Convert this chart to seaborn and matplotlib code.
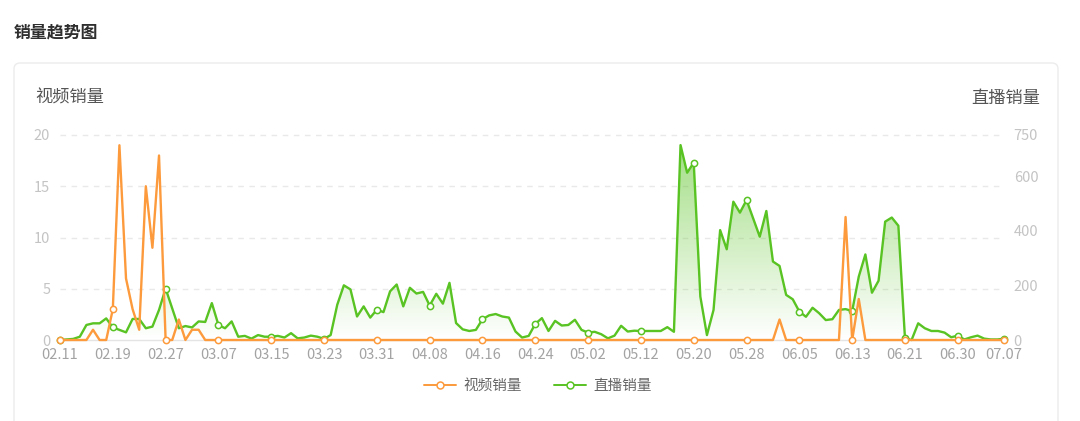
import numpy as np
import pandas as pd
import matplotlib
matplotlib.use("Agg")
import matplotlib.pyplot as plt
import seaborn as sns
from matplotlib.lines import Line2D
from matplotlib.patches import FancyBboxPatch
from matplotlib.colors import to_rgb
from matplotlib.transforms import IdentityTransform

# ---- data -------------------------------------------------------------
# daily dates (a few days have no record)
all_days = pd.date_range("2023-02-11", "2023-07-07", freq="D")
missing_days = pd.to_datetime(["2023-05-06", "2023-05-07", "2023-06-25"])
dates = [d.strftime("%m.%d") for d in all_days if d not in missing_days]

# 视频销量 (left axis)
video_sales = [
    0, 0, 0, 0, 0, 1, 0, 0, 3, 19, 6, 3, 1, 15, 9, 18, 0, 0, 2, 0,
    1, 1, 0, 0, 0, 0, 0, 0, 0, 0, 0, 0, 0, 0, 0, 0, 0, 0, 0, 0,
    0, 0, 0, 0, 0, 0, 0, 0, 0, 0, 0, 0, 0, 0, 0, 0, 0, 0, 0, 0,
    0, 0, 0, 0, 0, 0, 0, 0, 0, 0, 0, 0, 0, 0, 0, 0, 0, 0, 0, 0,
    0, 0, 0, 0, 0, 0, 0, 0, 0, 0, 0, 0, 0, 0, 0, 0, 0, 0, 0, 0,
    0, 0, 0, 0, 0, 0, 0, 0, 0, 2, 0, 0, 0, 0, 0, 0, 0, 0, 0, 12,
    0, 4, 0, 0, 0, 0, 0, 0, 0, 0, 0, 0, 0, 0, 0, 0, 0, 0, 0, 0,
    0, 0, 0, 0,
]

# 直播销量 (right axis)
live_sales = [
    0, 2, 4, 12, 55, 61, 61, 79, 46, 37, 28, 77, 77, 43, 49, 110, 188, 116, 43, 51,
    46, 68, 66, 135, 55, 43, 68, 12, 15, 5, 18, 12, 12, 15, 9, 25, 6, 9, 16, 12,
    4, 18, 129, 200, 185, 86, 123, 82, 111, 102, 178, 203, 123, 191, 170, 176, 126, 169, 133, 209,
    62, 39, 33, 37, 76, 90, 95, 86, 82, 31, 9, 15, 59, 80, 33, 70, 53, 55, 74, 37,
    27, 30, 21, 6, 16, 52, 31, 34, 33, 33, 33, 33, 47, 30, 713, 612, 649, 159, 18, 110,
    402, 332, 506, 466, 512, 445, 378, 472, 287, 271, 165, 149, 104, 85, 118, 98, 73, 76, 110, 113,
    106, 232, 313, 173, 217, 433, 448, 418, 6, 0, 61, 43, 33, 33, 27, 10, 16, 2, 10, 16,
    5, 2, 2, 5,
]

left_ticks = [0, 5, 10, 15, 20]
right_ticks = [0, 200, 400, 600, 750]
series_names = ["视频销量", "直播销量"]

# ---- styling ----------------------------------------------------------
ORANGE = "#fc9a3c"
GREEN = "#58c322"
sns.set_theme(style="white")
plt.rcParams["font.family"] = ["Noto Sans CJK SC", "DejaVu Sans"]

W, H = 1080, 421
fig = plt.figure(figsize=(W / 100, H / 100), dpi=100)
fig.patch.set_facecolor("white")

# card frame
fig.add_artist(FancyBboxPatch((14, -20), 1044, (H - 63) + 20,
                              boxstyle="round,pad=0,rounding_size=6",
                              transform=IdentityTransform(),
                              fc="white", ec="#ececec", lw=1.0, zorder=0))

fig.text(14 / W, 1 - 32 / H, "销量趋势图", fontsize=12.2, fontweight="bold",
         color="#2f2f2f", va="center", ha="left")
fig.text(35 / W, 1 - 98 / H, series_names[0], fontsize=12.4, color="#555555",
         va="center", ha="left")
fig.text(1040 / W, 1 - 98 / H, series_names[1], fontsize=12.4, color="#555555",
         va="center", ha="right")

ax = fig.add_axes([60 / W, (H - 340) / H, 944 / W, 205 / H])
ax2 = ax.twinx()

x = np.arange(len(dates))
n_last = len(dates) - 1
mark_idx = list(range(0, n_last, 8)) + [n_last]
L_MAX, R_MAX = 20, 750

# dashed grid following the left-axis ticks
for t in left_ticks[1:]:
    ax2.axhline(t * R_MAX / L_MAX, color="#e9e9e9", lw=1, ls=(0, (4, 4)), zorder=0)
ax2.axhline(0, color="#e4e4e4", lw=1, zorder=0)

# live sales: line + gradient area
sns.lineplot(x=x, y=live_sales, ax=ax2, color=GREEN, lw=1.7, marker="o",
             markevery=mark_idx, ms=4.5, mfc="white", mec=GREEN, mew=1.1,
             errorbar=None, zorder=3)
poly = ax2.fill_between(x, live_sales, 0, facecolor="none", edgecolor="none")
grad = np.zeros((256, 1, 4))
grad[..., :3] = to_rgb(GREEN)
grad[:, 0, 3] = np.linspace(0.0, 0.55, 256)
im = ax2.imshow(grad, extent=[0, n_last, 0, max(live_sales)], origin="lower",
                aspect="auto", zorder=1, interpolation="bilinear")
im.set_clip_path(poly.get_paths()[0], transform=ax2.transData)

# video sales
sns.lineplot(x=x, y=video_sales, ax=ax, color=ORANGE, lw=1.7, marker="o",
             markevery=mark_idx, ms=4.5, mfc="white", mec=ORANGE, mew=1.1,
             errorbar=None, zorder=3)

ax.set_zorder(ax2.get_zorder() + 1)
ax.patch.set_visible(False)
for a in (ax, ax2):
    for ln in a.lines:
        ln.set_clip_on(False)
    for s in a.spines.values():
        s.set_visible(False)

ax.set_xlim(0, n_last)
ax.set_ylim(0, L_MAX)
ax2.set_ylim(0, R_MAX)
ax2.set_xlim(0, n_last)

ax.set_xticks(mark_idx)
ax.set_xticklabels([dates[i] for i in mark_idx])
ax.set_yticks(left_ticks)
ax2.set_yticks(right_ticks)
ax.tick_params(axis="x", length=0, pad=6, labelsize=10.5, labelcolor="#a3a3a3")
ax.tick_params(axis="y", length=0, pad=7, labelsize=10.5, labelcolor="#c4c4c4")
ax2.tick_params(axis="y", length=0, pad=7, labelsize=10.5, labelcolor="#c4c4c4")
ax.set_xlabel("")
ax.set_ylabel("")
ax2.set_ylabel("")
ax.grid(False)
ax2.grid(False)

handles = [
    Line2D([], [], color=ORANGE, lw=1.4, marker="o", ms=5, mfc="white", mec=ORANGE, mew=1.1),
    Line2D([], [], color=GREEN, lw=1.4, marker="o", ms=5, mfc="white", mec=GREEN, mew=1.1),
]
fig.legend(handles, series_names, loc="center", bbox_to_anchor=(538 / W, 1 - 386 / H),
           ncol=2, frameon=False, fontsize=10.5, labelcolor="#666666",
           handlelength=2.2, handletextpad=0.5, columnspacing=2.2)

fig.savefig("out.png", dpi=100, facecolor="white")
